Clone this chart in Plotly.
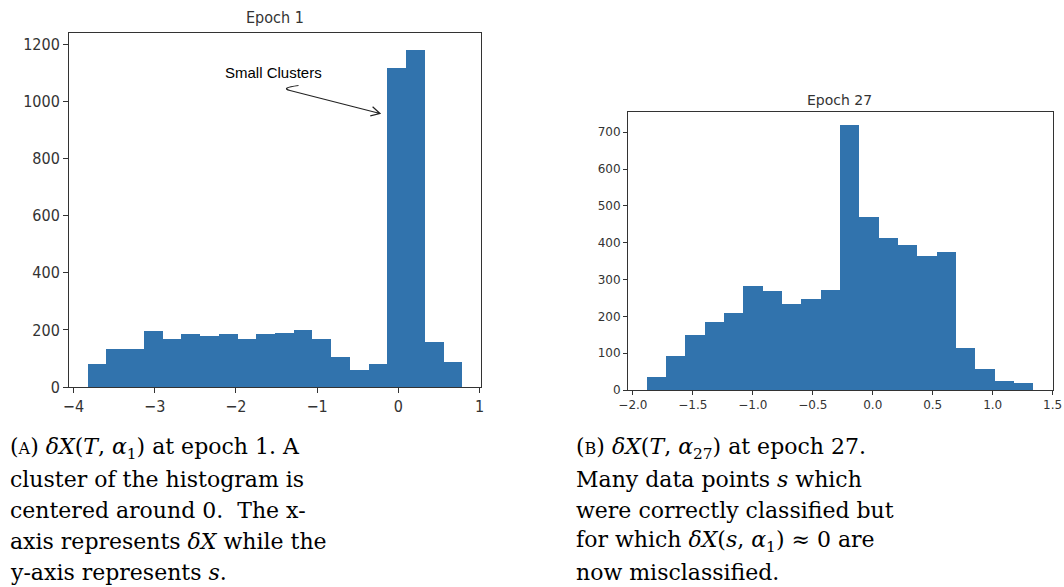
import numpy as np
import plotly.graph_objects as go

W, H = 1064, 587

# ---------------- data ----------------
epoch1_counts = [82, 133, 133, 195, 167, 184, 179, 184, 167, 184,
                 190, 201, 167, 104, 60, 82, 1118, 1181, 157, 88]
epoch1_bin_range = (-3.824, 0.787)

epoch27_counts = [36, 92, 150, 185, 209, 282, 268, 234, 248, 272,
                  719, 470, 414, 393, 365, 375, 115, 57, 25, 18]
epoch27_bin_range = (-1.885, 1.340)

left_xtick_vals = [-4, -3, -2, -1, 0, 1]
left_xtick_text = ["\u22124", "\u22123", "\u22122", "\u22121", "0", "1"]
left_ytick_vals = [0, 200, 400, 600, 800, 1000, 1200]

right_xtick_vals = [-2.0, -1.5, -1.0, -0.5, 0.0, 0.5, 1.0, 1.5]
right_xtick_text = ["\u22122.0", "\u22121.5", "\u22121.0", "\u22120.5", "0.0", "0.5", "1.0", "1.5"]
right_ytick_vals = [0, 100, 200, 300, 400, 500, 600, 700]

caption_a = [
    "(<span style='font-size:16px'>A</span>) <i>δX</i>(<i>T</i>, <i>α</i><sub>1</sub>) at epoch 1. A",
    "cluster of the histogram is",
    "centered around 0.  The x-",
    "axis represents <i>δX</i> while the",
    "y-axis represents <i>s</i>.",
]
caption_b = [
    "(<span style='font-size:16px'>B</span>) <i>δX</i>(<i>T</i>, <i>α</i><sub>27</sub>) at epoch 27.",
    "Many data points <i>s</i> which",
    "were correctly classified but",
    "for which <i>δX</i>(<i>s</i>, <i>α</i><sub>1</sub>) ≈ 0 are",
    "now misclassified.",
]

BAR = "#3173ad"
AX = "#333333"


def bins(rng, n):
    edges = np.linspace(rng[0], rng[1], n + 1)
    return (edges[:-1] + edges[1:]) / 2, edges[1] - edges[0]


c1, w1 = bins(epoch1_bin_range, len(epoch1_counts))
c27, w27 = bins(epoch27_bin_range, len(epoch27_counts))

fig = go.Figure()
fig.add_trace(go.Bar(x=c1, y=epoch1_counts, width=w1, marker=dict(color=BAR, line=dict(width=0)),
                     xaxis="x", yaxis="y", showlegend=False))
fig.add_trace(go.Bar(x=c27, y=epoch27_counts, width=w27, marker=dict(color=BAR, line=dict(width=0)),
                     xaxis="x2", yaxis="y2", showlegend=False))


def px(x):
    return x / W


def py(y):
    return 1 - y / H


# plot area pixel boxes
L = dict(x0=69, x1=481, y0=33, y1=387)
R = dict(x0=628, x1=1053, y0=112, y1=390)

axcommon = dict(showline=True, linecolor=AX, linewidth=1, mirror=True, ticks="outside",
                tickcolor=AX, showgrid=False, zeroline=False, automargin=False)
lfont = dict(family="Liberation Sans Narrow, DejaVu Sans Condensed, DejaVu Sans", size=16, color="#333")
rfont = dict(family="DejaVu Sans", size=12, color="#333")

fig.update_layout(
    width=W, height=H,
    margin=dict(l=0, r=0, t=0, b=0, autoexpand=False),
    paper_bgcolor="white", plot_bgcolor="white",
    bargap=0,
    xaxis=dict(domain=[px(L["x0"]), px(L["x1"])], range=[-4.055, 1.018], anchor="y",
               tickvals=left_xtick_vals, ticktext=left_xtick_text, ticklen=5, tickfont=lfont, **axcommon),
    yaxis=dict(domain=[py(L["y1"]), py(L["y0"])], range=[0, 1240], anchor="x",
               tickvals=left_ytick_vals, ticklen=5, tickfont=lfont, **axcommon),
    xaxis2=dict(domain=[px(R["x0"]), px(R["x1"])], range=[-2.041, 1.503], anchor="y2",
                tickvals=right_xtick_vals, ticktext=right_xtick_text, ticklen=4, tickfont=rfont, **axcommon),
    yaxis2=dict(domain=[py(R["y1"]), py(R["y0"])], range=[0, 755], anchor="x2",
                tickvals=right_ytick_vals, ticklen=4, tickfont=rfont, **axcommon),
)

annotations = []
annotations.append(dict(text="Epoch 1", x=px(275), y=py(17), xref="paper", yref="paper",
                        xanchor="center", yanchor="middle",
                        showarrow=False, font=dict(family="DejaVu Sans Condensed, DejaVu Sans", size=16, color="#333")))
annotations.append(dict(text="Epoch 27", x=px(839), y=py(100), xref="paper", yref="paper",
                        xanchor="center", yanchor="middle",
                        showarrow=False, font=dict(family="DejaVu Sans", size=14, color="#333")))
annotations.append(dict(text="Small Clusters", x=px(273), y=py(73), xref="paper", yref="paper",
                        xanchor="center", yanchor="middle",
                        showarrow=False, font=dict(family="Liberation Sans", size=15, color="black")))

line_y = [448, 479, 510, 541, 572]
capfont = dict(family="DejaVu Serif", size=22, color="black")
for i, t in enumerate(caption_a):
    annotations.append(dict(text=t, x=px(8), y=py(line_y[i]), xref="paper", yref="paper",
                            xanchor="left", yanchor="middle", showarrow=False, font=capfont))
for i, t in enumerate(caption_b):
    annotations.append(dict(text=t, x=px(574), y=py(line_y[i]), xref="paper", yref="paper",
                            xanchor="left", yanchor="middle", showarrow=False, font=capfont))
fig.update_layout(annotations=annotations)

# hand-drawn style arrow (in pixel space -> paper)
tail = (290.0, 90.5)
tip = (380.0, 113.5)
d = np.array(tip) - np.array(tail)
u = d / np.linalg.norm(d)
ang = np.deg2rad(28)
wings = []
for s in (+1, -1):
    rot = np.array([[np.cos(s * ang), -np.sin(s * ang)], [np.sin(s * ang), np.cos(s * ang)]])
    wings.append(np.array(tip) - 10 * rot @ u)


def P(p):
    return f"{px(p[0]):.5f},{py(p[1]):.5f}"


path = (f"M {P((298.5, 85.5))} Q {P((280, 88))} {P(tail)} L {P(tip)} "
        f"M {P(wings[0])} L {P(tip)} L {P(wings[1])}")
fig.add_shape(type="path", path=path, xref="paper", yref="paper",
              line=dict(color="#222", width=1.2))

fig.write_html("out.html")
